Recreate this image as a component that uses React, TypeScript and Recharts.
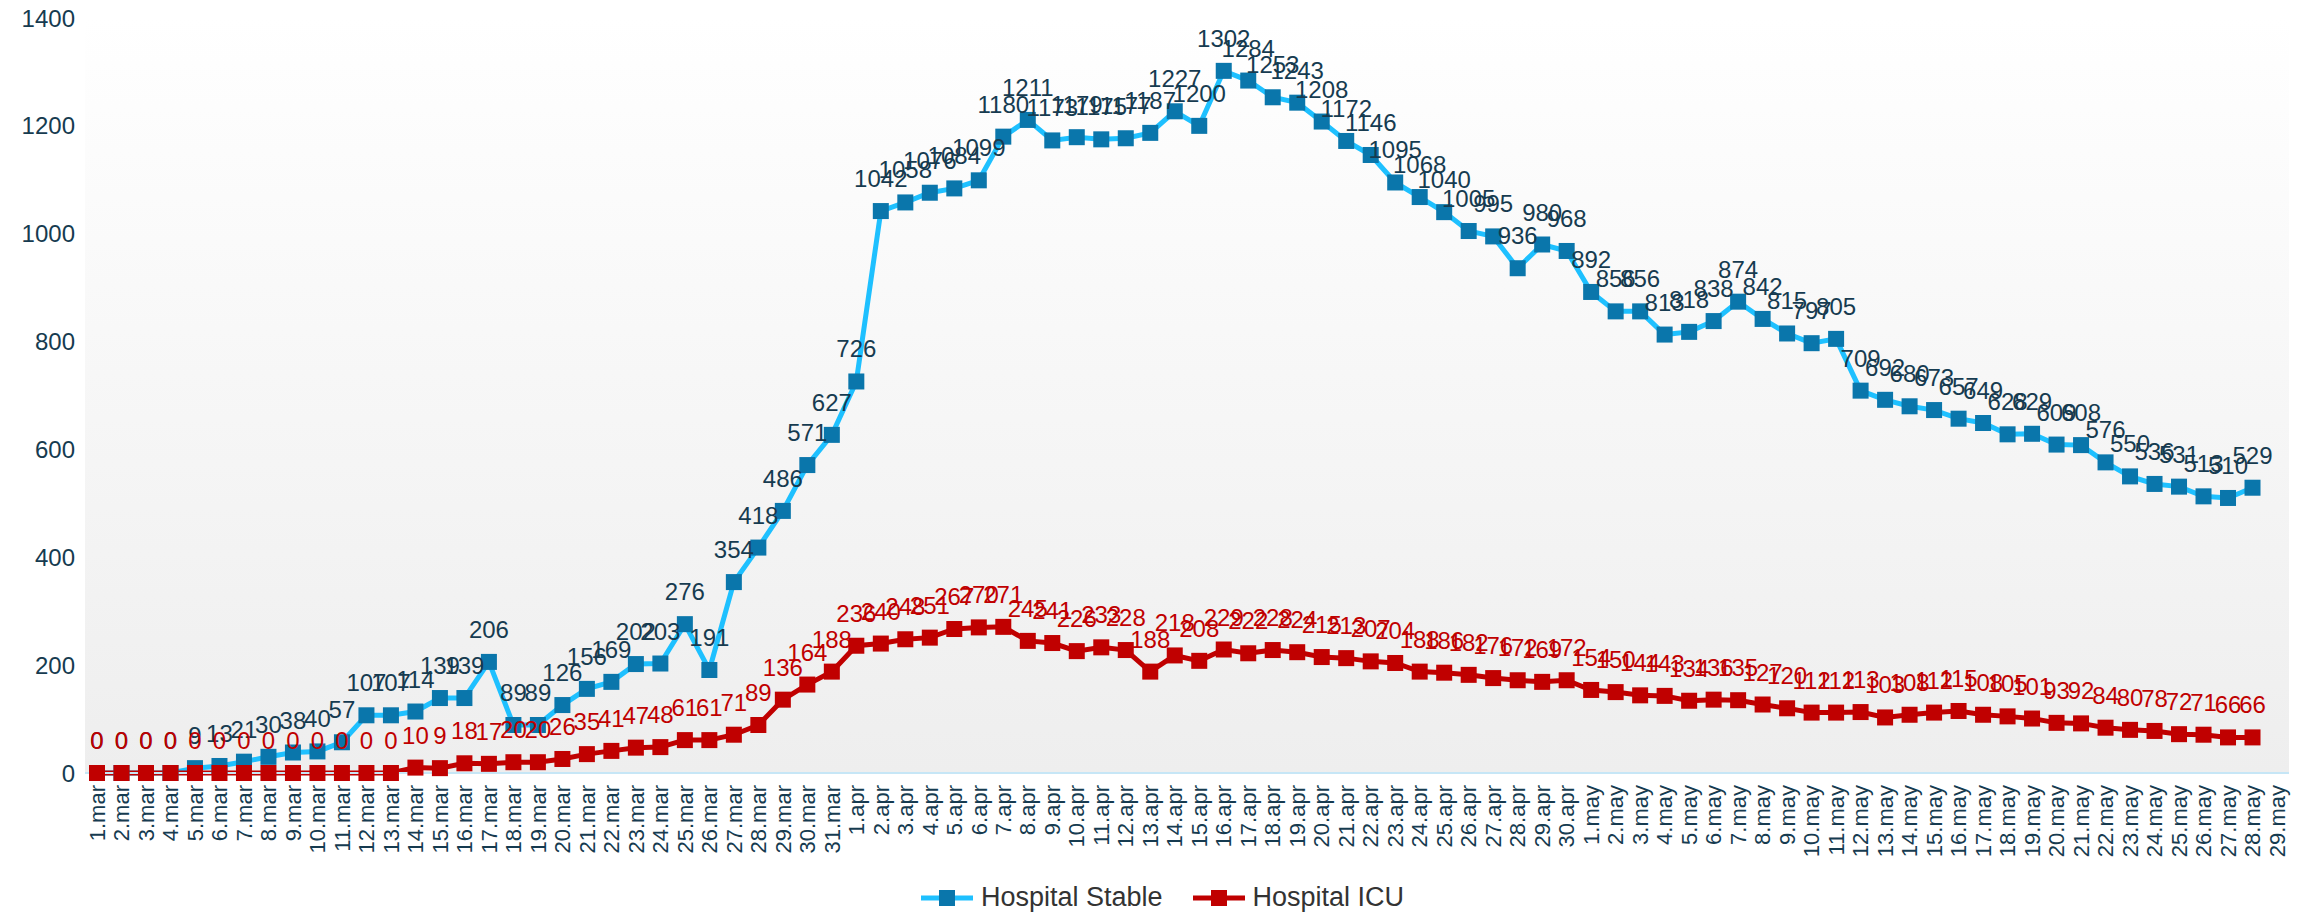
import { LabelList, Legend, Line, LineChart, XAxis, YAxis, CartesianGrid } from 'recharts'

const months: [string, number][] = [
  ['mar', 31],
  ['apr', 30],
  ['may', 29],
]

const days = months.flatMap(([month, count]) =>
  Array.from({ length: count }, (_, i) => `${i + 1}.${month}`),
)

// Hospital Stable, 1.mar .. 28.may
const stable = [
  0, 0, 0, 0, 9, 13, 21, 30, 38, 40, 57, 107, 107, 114, 139, 139, 206, 89, 89, 126, 156, 169, 202, 203,
  276, 191, 354, 418, 486, 571, 627,
  726, 1042, 1058, 1076, 1084, 1099, 1180, 1211, 1173, 1179, 1175, 1177, 1187, 1227, 1200, 1302, 1284,
  1253, 1243, 1208, 1172, 1146, 1095, 1068, 1040, 1005, 995, 936, 980, 968,
  892, 856, 856, 813, 818, 838, 874, 842, 815, 797, 805, 709, 692, 680, 673, 657, 649, 628, 629, 609,
  608, 576, 550, 536, 531, 513, 510, 529,
]

// Hospital ICU, 1.mar .. 28.may
const icu = [
  0, 0, 0, 0, 0, 0, 0, 0, 0, 0, 0, 0, 0, 10, 9, 18, 17, 20, 20, 26, 35, 41, 47, 48, 61, 61, 71, 89, 136,
  164, 188,
  236, 240, 248, 251, 267, 270, 271, 245, 241, 226, 233, 228, 188, 218, 208, 229, 222, 228, 224, 215,
  213, 207, 204, 188, 186, 182, 176, 172, 169, 172,
  154, 150, 144, 143, 134, 136, 135, 127, 120, 112, 112, 113, 103, 108, 112, 115, 108, 105, 101, 93,
  92, 84, 80, 78, 72, 71, 66, 66,
]

const yTicks = [0, 200, 400, 600, 800, 1000, 1200, 1400]

const seriesInfo = [
  { key: 'stable', name: 'Hospital Stable', line: '#1ec0ff', marker: '#0a76ab', label: '#163b50' },
  { key: 'icu', name: 'Hospital ICU', line: '#c00000', marker: '#c00000', label: '#c00000' },
]

const data = days.map((day, i) => ({
  day,
  stable: stable[i] ?? null,
  icu: icu[i] ?? null,
}))

const FONT = '"Liberation Sans", Arial, sans-serif'
const TEXT = '#163b50'

function squareDot(fill: string) {
  return (props: any) => {
    const { cx, cy, value, index } = props
    if (cx == null || cy == null || value == null) return <g key={index} />
    return <rect key={index} x={cx - 8} y={cy - 8} width={16} height={16} fill={fill} />
  }
}

function DayTick({ x, y, payload }: any) {
  return (
    <text
      transform={`translate(${x},${y}) rotate(-90)`}
      textAnchor="end"
      dy="0.35em"
      fontSize={22}
      fontFamily={FONT}
      fill={TEXT}
    >
      {payload.value}
    </text>
  )
}

function LegendContent() {
  return (
    <div
      style={{
        display: 'flex',
        justifyContent: 'center',
        gap: 30,
        paddingTop: 8,
        paddingLeft: 36,
        fontFamily: FONT,
        fontSize: 27,
      }}
    >
      {seriesInfo.map((s) => (
        <span key={s.key} style={{ display: 'flex', alignItems: 'center' }}>
          <svg width={52} height={22}>
            <line x1={0} y1={11} x2={52} y2={11} stroke={s.line} strokeWidth={5} />
            <rect x={18} y={3} width={16} height={16} fill={s.marker} />
          </svg>
          <span style={{ marginLeft: 8, color: '#333' }}>{s.name}</span>
        </span>
      ))}
    </div>
  )
}

export default function App() {
  return (
    <div style={{ position: 'absolute', left: 0, top: 0, background: '#fff' }}>
      <LineChart width={2308} height={914} data={data} margin={{ top: 18, right: 19, bottom: 0, left: 0 }}>
        <defs>
          <linearGradient id="plotBg" x1="0" y1="0" x2="0" y2="1">
            <stop offset="0%" stopColor="#ffffff" />
            <stop offset="100%" stopColor="#eeeeee" />
          </linearGradient>
        </defs>
        <CartesianGrid fill="url(#plotBg)" horizontal={false} vertical={false} />
        <XAxis
          dataKey="day"
          interval={0}
          height={101}
          padding={{ left: 12, right: 12 }}
          tick={<DayTick />}
          tickLine={false}
          tickSize={0}
          tickMargin={12}
          axisLine={{ stroke: '#c6e6f6', strokeWidth: 2 }}
        />
        <YAxis
          domain={[0, 1400]}
          ticks={yTicks}
          width={85}
          axisLine={false}
          tickLine={false}
          tickSize={0}
          tickMargin={10}
          tick={{ fontSize: 24, fontFamily: FONT, fill: TEXT }}
        />
        <Legend verticalAlign="bottom" height={40} content={<LegendContent />} />
        {seriesInfo.map((s) => (
          <Line
            key={s.key}
            dataKey={s.key}
            name={s.name}
            type="linear"
            stroke={s.line}
            strokeWidth={5}
            dot={squareDot(s.marker)}
            activeDot={false}
            isAnimationActive={false}
          >
            <LabelList
              dataKey={s.key}
              position="top"
              offset={24}
              fontSize={24}
              fontFamily={FONT}
              fill={s.label}
            />
          </Line>
        ))}
      </LineChart>
    </div>
  )
}
